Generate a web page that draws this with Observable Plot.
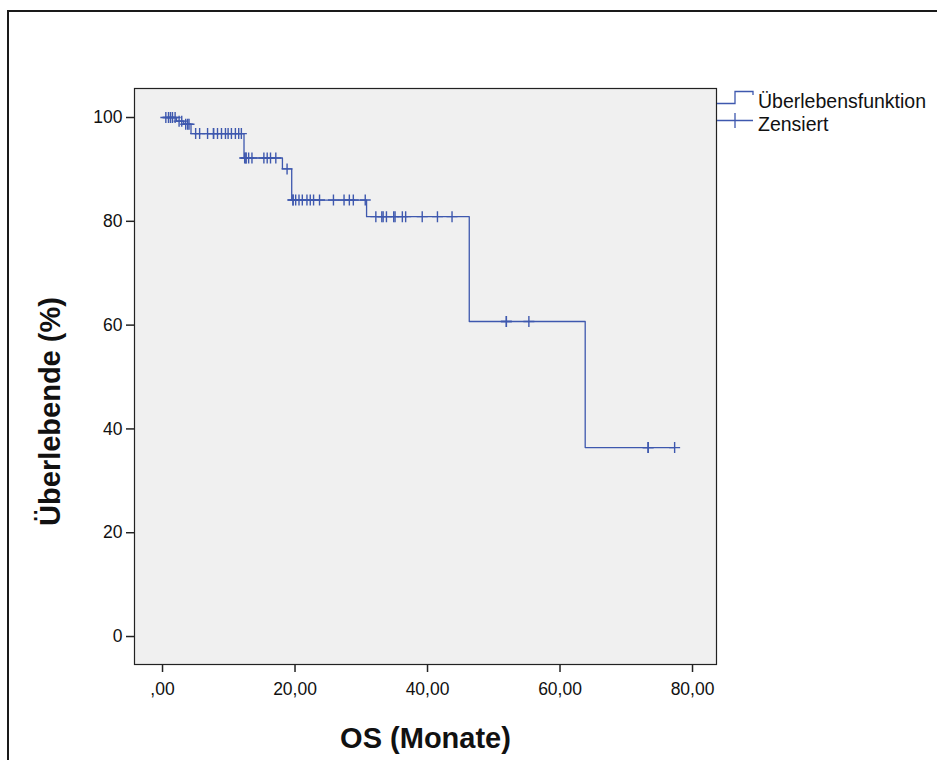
<!DOCTYPE html>
<html>
<head>
<meta charset="utf-8">
<script src="https://cdn.jsdelivr.net/npm/d3@7"></script>
<script src="https://cdn.jsdelivr.net/npm/@observablehq/plot@0.6"></script>
<style>
  html, body { margin: 0; padding: 0; background: #fff; }
  #wrap { position: relative; width: 937px; height: 760px; overflow: hidden; font-family: "Liberation Sans", Arial, sans-serif; }
  #outer { position: absolute; left: 7px; top: 10px; width: 1000px; height: 1000px; border: 2px solid #1a1a1a; box-sizing: border-box; }
  #chart { position: absolute; left: 0; top: 0; }
  #legend { position: absolute; left: 716px; top: 88px; }
</style>
</head>
<body>
<div id="wrap">
  <div id="outer"></div>
  <div id="chart"></div>
  <div id="legend"></div>
</div>
<script>
// Kaplan-Meier step curve (months, survival %)
const stepTimes = [0, 2.1, 3.2, 4.3, 12.3, 18.1, 19.5, 30.8, 46.3, 63.8, 77.3];
const stepSurv  = [100, 99.3, 98.7, 96.9, 92.2, 90.1, 84.1, 80.9, 60.7, 36.4, 36.4];

// Censored observations (months)
const censorTimes = [
  0.5, 0.9, 1.2, 1.5, 1.9,
  2.5, 2.9,
  3.5, 3.8, 4.0,
  5.0, 5.6, 6.8, 7.7, 7.7, 8.3, 8.9, 9.5, 9.9, 10.4, 11.0, 11.5, 11.9,
  12.4, 12.6, 12.6, 13.0, 13.5, 15.3, 15.8, 16.3, 17.1,
  18.8,
  19.7, 19.7, 20.1, 20.6, 21.1, 21.8, 22.3, 22.8, 23.7, 25.8, 27.4, 28.2, 28.8, 30.6,
  32.2, 33.1, 33.3, 33.8, 34.9, 35.1, 36.2, 36.7, 39.2, 41.5, 43.7,
  51.9, 51.9, 55.3,
  73.3, 73.3, 77.3
];

const xTicks = [0, 20, 40, 60, 80];
const yTicks = [0, 20, 40, 60, 80, 100];
const xLabel = "OS (Monate)";
const yLabel = "Überlebende (%)";
const legendLabels = ["Überlebensfunktion", "Zensiert"];

const blue = "#3e58ae";

const steps = stepTimes.map((t, i) => ({t, s: stepSurv[i]}));
function survAt(t) {
  let s = stepSurv[0];
  for (let i = 0; i < stepTimes.length; i++) if (stepTimes[i] <= t) s = stepSurv[i];
  return s;
}
const censored = censorTimes.map(t => ({t, s: survAt(t)}));

const plusSymbol = {
  draw(ctx, size) {
    const h = Math.sqrt(size / Math.PI);
    ctx.moveTo(-h, 0); ctx.lineTo(h, 0);
    ctx.moveTo(0, -h); ctx.lineTo(0, h);
  }
};

const fmt = d => d === 0 ? ",00" : d.toFixed(2).replace(".", ",");

const chart = Plot.plot({
  width: 937,
  height: 760,
  marginLeft: 134,
  marginRight: 221,
  marginTop: 88,
  marginBottom: 96,
  style: {fontFamily: "'Liberation Sans', Arial, sans-serif", background: "transparent", overflow: "visible"},
  x: {domain: [-4.23, 83.62], ticks: xTicks, tickFormat: fmt},
  y: {domain: [-5.39, 105.59], ticks: yTicks},
  marks: [
    Plot.frame({fill: "#f0f0f0", stroke: null}),
    Plot.line(steps, {x: "t", y: "s", curve: "step-after", stroke: blue, strokeWidth: 1.3}),
    Plot.dot(censored, {x: "t", y: "s", symbol: plusSymbol, r: 5.5, stroke: blue, strokeWidth: 1.4, fill: "none"}),
    Plot.frame({stroke: "#222", strokeWidth: 1.2}),
    Plot.axisX({ticks: xTicks, tickFormat: fmt, tickSize: 8, tickPadding: 10, fontSize: 17.5, stroke: "#222", strokeWidth: 1.5, fill: "#111", label: null}),
    Plot.axisY({ticks: yTicks, tickSize: 8, tickPadding: 4, fontSize: 17.5, stroke: "#222", strokeWidth: 1.5, fill: "#111", label: null}),
    Plot.text([xLabel], {frameAnchor: "bottom", dy: 74, fontSize: 29, fontWeight: "bold", fill: "#111", lineAnchor: "middle", textAnchor: "middle"}),
    Plot.text([yLabel], {frameAnchor: "left", dx: -84, dy: 35, rotate: -90, fontSize: 29, fontWeight: "bold", fill: "#111", textAnchor: "middle", lineAnchor: "middle"})
  ]
});
document.getElementById("chart").appendChild(chart);

// Legend (outside the plotting frame, right side)
const ns = "http://www.w3.org/2000/svg";
const lg = document.createElementNS(ns, "svg");
lg.setAttribute("width", 221);
lg.setAttribute("height", 60);
lg.innerHTML = `
  <path d="M1,15.5 H19 V3.5 H37 V7" fill="none" stroke="${blue}" stroke-width="1.3"/>
  <path d="M1,32.5 H37 M19,25 V40" fill="none" stroke="${blue}" stroke-width="1.3"/>
  <text x="42" y="20" font-size="19.5" fill="#111" font-family="'Liberation Sans', Arial, sans-serif">${legendLabels[0]}</text>
  <text x="42" y="43" font-size="19.5" fill="#111" font-family="'Liberation Sans', Arial, sans-serif">${legendLabels[1]}</text>
`;
document.getElementById("legend").appendChild(lg);
</script>
</body>
</html>
